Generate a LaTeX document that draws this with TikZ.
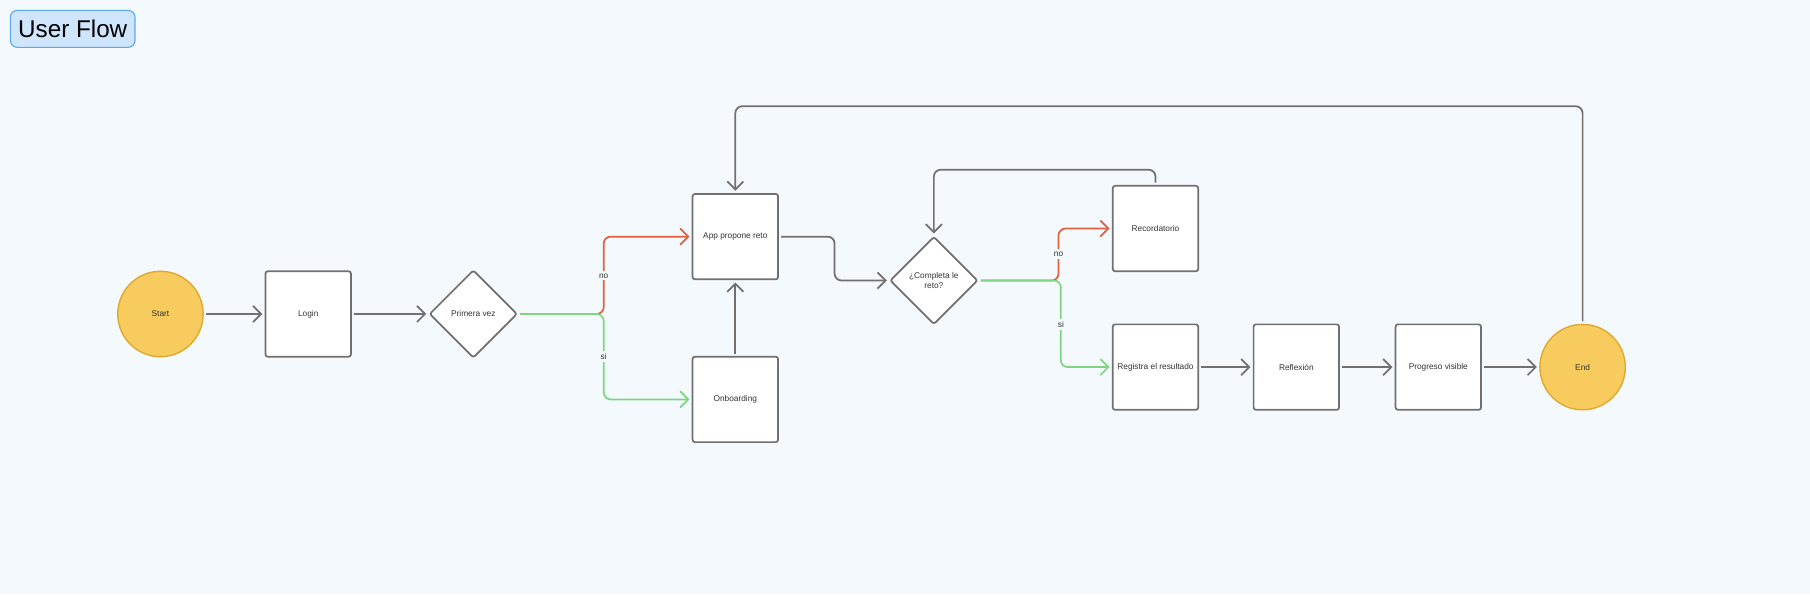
\documentclass[tikz,border=0pt]{standalone}
\usepackage{fontspec}
\setmainfont{Liberation Sans}
\usetikzlibrary{shapes.geometric,arrows.meta}
\definecolor{bg}{HTML}{F4F9FE}
\definecolor{gr}{HTML}{707070}
\definecolor{rd}{HTML}{E0603F}
\definecolor{gn}{HTML}{80D680}
\definecolor{yl}{HTML}{F7CB5E}
\definecolor{yb}{HTML}{E0A92E}
\definecolor{tb}{HTML}{CFE5FB}
\definecolor{tbb}{HTML}{5AA9F5}
\begin{document}
\begin{tikzpicture}[x=0.5pt,y=-0.5pt,
  txt/.style={font=\fontsize{3.6}{4.3}\selectfont, text=black!80, align=center},
  box/.style={txt, draw=gr, line width=0.75pt, fill=white, minimum size=37pt, inner sep=0pt, rounded corners=1pt},
  term/.style={txt, circle, draw=yb, line width=0.6pt, fill=yl, minimum size=37pt, inner sep=0pt},
  dec/.style={txt, diamond, draw=gr, line width=0.75pt, fill=white, minimum width=38pt, minimum height=38pt, inner sep=0pt, aspect=1, rounded corners=1pt},
  con/.style={line width=0.75pt, draw=gr, rounded corners=3pt, -{Straight Barb[length=3.5pt,width=7pt,line width=0.75pt]}, shorten >=1pt, shorten <=1pt},
  no/.style={con, draw=rd},
  si/.style={con, draw=gn},
  lab/.style={txt, fill=bg, inner sep=1pt}]
\fill[bg] (0,0) rectangle (1568,515);
\useasboundingbox (0,0) rectangle (1568,515);
\node[draw=tbb, fill=tb, rounded corners=3pt, line width=0.5pt, minimum width=54pt, minimum height=16pt, inner sep=0pt, font=\fontsize{10.5}{12}\selectfont] (title) at (63,25) {User Flow};

\node[term] (start) at (139,272) {Start};
\node[box] (login) at (267,272) {Login};
\node[dec] (pv) at (410,272) {Primera vez};
\node[box] (app) at (637,205) {App propone reto};
\node[box] (onb) at (637,346) {Onboarding};
\node[dec] (comp) at (809,243) {¿Completa le\\reto?};
\node[box] (rec) at (1001,198) {Recordatorio};
\node[box] (reg) at (1001,318) {Registra el resultado};
\node[box] (ref) at (1123,318) {Reflexión};
\node[box] (prog) at (1246,318) {Progreso visible};
\node[term] (end) at (1371,318) {End};

\coordinate (b1) at (523,272);
\coordinate (b2) at (723,205);
\coordinate (b3) at (917,243);
\coordinate (b4) at (919,243);
\coordinate (t1) at (1001,147);
\coordinate (t2) at (1371,92);

\draw[con] (start) -- (login);
\draw[con] (login) -- (pv);
\draw[no] (pv.east) -- (b1) |- (app.west);
\draw[si] (pv.east) -- (b1) |- (onb.west);
\draw[con] (onb) -- (app);
\draw[con] (app.east) -- (b2) |- (comp.west);
\draw[no] (comp.east) -- (b3) |- (rec.west);
\draw[si] (comp.east) -- (b4) |- (reg.west);
\draw[con] (rec.north) -- (t1) -| (comp.north);
\draw[con] (reg) -- (ref);
\draw[con] (ref) -- (prog);
\draw[con] (prog) -- (end);
\draw[con] (end.north) -- (t2) -| (app.north);

\node[lab] at (523,239) {no};
\node[lab] at (523,309) {si};
\node[lab] at (917,220) {no};
\node[lab] at (919,281) {si};
\end{tikzpicture}
\end{document}
